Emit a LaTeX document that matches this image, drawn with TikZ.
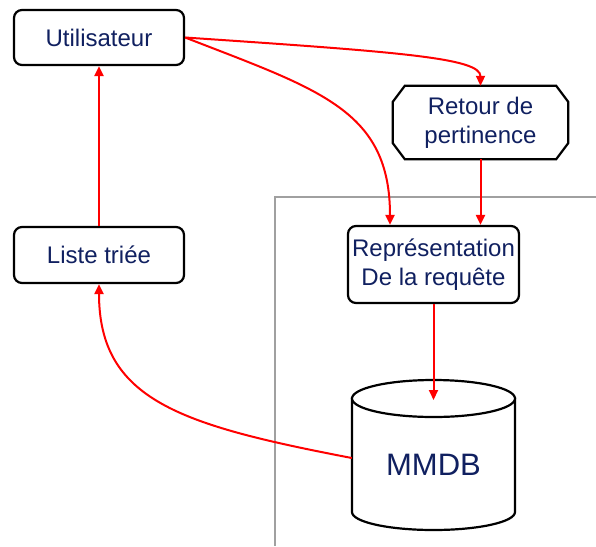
\documentclass[tikz,border=0pt]{standalone}
\usepackage{fontspec}
\setmainfont{Liberation Sans}
\usetikzlibrary{arrows.meta,calc}
\definecolor{txtblue}{RGB}{16,32,96}
\definecolor{frame}{RGB}{160,160,160}
\begin{document}
\begin{tikzpicture}[x=1pt,y=-1pt,
  boxline/.style={draw=black,line width=2.2pt},
  rbox/.style={boxline,rounded corners=8pt,fill=white,inner sep=0pt,text=txtblue,align=center,font=\fontsize{24}{29}\selectfont},
  plain/.style={inner sep=0pt,text=txtblue,align=center,font=\fontsize{24}{29}\selectfont},
  flow/.style={draw=red,line width=2pt,-{Triangle[length=10pt,width=9pt]}}]
\useasboundingbox (0,0) rectangle (596,546);
% gray frame
\draw[frame,line width=2pt] (596,197) -- (275,197) -- (275,546);
% nodes
\node[rbox,minimum width=170pt,minimum height=55pt] (u) at (99,37.5) {Utilisateur};
\node[rbox,minimum width=170pt,minimum height=56pt] (lst) at (99,255) {Liste triée};
\node[rbox,minimum width=171pt,minimum height=77pt] (rep) at (433.5,264.5) {Représentation\\De la requête};
\node[plain,minimum width=175pt,minimum height=73pt] (ret) at (480.5,122.5) {Retour de\\pertinence};
\draw[boxline] ($(ret.north west)+(12,0)$) -- ($(ret.north east)+(-12,0)$) -- ($(ret.north east)+(0,16)$)
  -- ($(ret.south east)+(0,-16)$) -- ($(ret.south east)+(-12,0)$) -- ($(ret.south west)+(12,0)$)
  -- ($(ret.south west)+(0,-16)$) -- ($(ret.north west)+(0,16)$) -- cycle;
% cylinder
\draw[boxline,fill=white] (352,398.5) -- (352,512) arc[start angle=180,end angle=360,x radius=81.5pt,y radius=18pt]
  -- (515,398.5) -- cycle;
\draw[boxline,fill=white] (433.5,398.5) ellipse[x radius=81.5pt,y radius=18.5pt];
\node[plain,minimum width=163pt,minimum height=60pt,font=\fontsize{31}{36}\selectfont] (db) at (433.5,465) {MMDB};
\coordinate (dbtop) at (433.5,400);
% connectors
\draw[flow] (lst.north) -- (u.south);
\draw[flow] (u.east) .. controls (400,52) and (480.5,58) .. (ret.north);
\draw[flow] (u.east) .. controls (320,90) and ([xshift=-43.5pt]rep.north |- 0,110) .. ([xshift=-43.5pt]rep.north);
\draw[flow] (ret.south) -- (ret.south |- rep.north);
\draw[flow] (rep.south) -- (dbtop);
\draw[flow] ([yshift=7pt]db.west) .. controls (180,425) and (lst.south |- 0,400) .. (lst.south);
\end{tikzpicture}
\end{document}
